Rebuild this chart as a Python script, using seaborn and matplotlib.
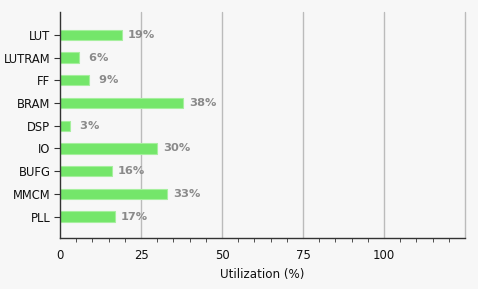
import pandas as pd
import seaborn as sns
import matplotlib.pyplot as plt
from matplotlib.ticker import MultipleLocator

# Resource utilization values (percent)
resources = ["LUT", "LUTRAM", "FF", "BRAM", "DSP", "IO", "BUFG", "MMCM", "PLL"]
utilization = [19, 6, 9, 38, 3, 30, 16, 33, 17]

df = pd.DataFrame({"resource": resources, "util": utilization})

sns.set_style("white")
plt.rcParams["font.family"] = ["DejaVu Sans"]

fig = plt.figure(figsize=(4.78, 2.89), dpi=100, facecolor="#f7f7f7")
ax = fig.add_axes([0.1255, 0.176, 0.8475, 0.782])
ax.set_facecolor("#f7f7f7")

sns.barplot(data=df, x="util", y="resource", orient="h", color="#74e66a",
            saturation=1, width=0.45, edgecolor="#a6ef9e", linewidth=0.8, ax=ax)

# value labels right of each bar
for i, v in enumerate(utilization):
    ax.text(v + 1.8, i, f"{v:2d}%", va="center", ha="left", fontsize=8.2,
            fontweight="bold", color="#8a8a8a")

ax.set_xlim(0, 125)
ax.set_ylim(8.95, -1.0)
ax.xaxis.set_minor_locator(MultipleLocator(5))
ax.set_xticks([0, 25, 50, 75, 100, 125])
ax.set_xticklabels(["0", "25", "50", "75", "100", ""])
ax.grid(False)
for xv in [25, 50, 75, 100, 125]:
    ax.axvline(xv, color="#bbbbbb", linewidth=1, zorder=0, clip_on=False)

for s in ["top", "right"]:
    ax.spines[s].set_visible(False)
for s in ["left", "bottom"]:
    ax.spines[s].set_color("#333333")
    ax.spines[s].set_linewidth(1)

ax.tick_params(axis="x", which="major", length=5, color="#333333", labelsize=8.4,
               labelcolor="#111111", pad=3)
ax.tick_params(axis="x", which="minor", length=3, color="#333333", bottom=True)
ax.tick_params(axis="y", which="major", length=4, color="#333333", labelsize=8.3,
               labelcolor="#111111", pad=3, left=True)

ax.set_xlabel("Utilization (%)", fontsize=8.6, color="#111111", labelpad=4)
ax.set_ylabel("")

fig.savefig("out.png", dpi=100, facecolor="#f7f7f7")
